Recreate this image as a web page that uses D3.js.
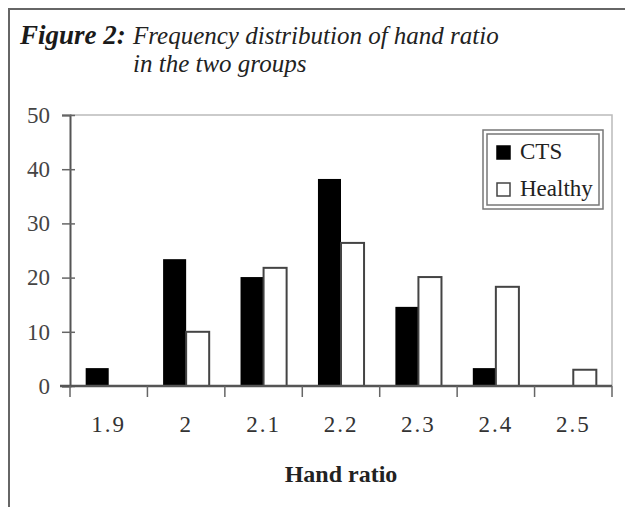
<!DOCTYPE html>
<html>
<head>
<meta charset="utf-8">
<script src="https://cdn.jsdelivr.net/npm/d3@7"></script>
<style>
  body { margin: 0; background: #fff; }
  svg { display: block; }
</style>
</head>
<body>
<svg id="chart" width="625" height="507"></svg>
<script>
// Data
const categories = ['1.9', '2', '2.1', '2.2', '2.3', '2.4', '2.5'];
const seriesNames = ['CTS', 'Healthy'];
const ctsValues = [3.3, 23.4, 20.1, 38.2, 14.6, 3.3, 0];
const healthyValues = [0, 10, 21.8, 26.4, 20.1, 18.3, 3];
const yTicks = [0, 10, 20, 30, 40, 50];

const svg = d3.select('#chart');
const serif = '"Liberation Serif", "Times New Roman", serif';

// outer frame (top + left edge of the cropped figure box)
svg.append('path')
    .attr('d', 'M9,507 L9,9 L625,9')
    .attr('fill', 'none')
    .attr('stroke', '#666')
    .attr('stroke-width', 2);

// figure caption
svg.append('text')
    .attr('x', 20).attr('y', 44)
    .style('font-family', serif)
    .style('font-size', '27px')
    .style('font-weight', 'bold')
    .style('font-style', 'italic')
    .style('fill', '#1a1a1a')
    .text('Figure 2:');

const captionLines = ['Frequency distribution of hand ratio', 'in the two groups'];
svg.append('g').selectAll('text')
    .data(captionLines)
    .enter()
    .append('text')
    .attr('x', 133)
    .attr('y', (d, i) => 44 + i * 28)
    .style('font-family', serif)
    .style('font-size', '25px')
    .style('font-style', 'italic')
    .style('fill', '#222')
    .text(d => d);

// plot area
const margin = { top: 115, left: 70, right: 13, bottom: 121 };
const width = 625 - margin.left - margin.right;
const height = 507 - margin.top - margin.bottom;

const g = svg.append('g')
    .attr('transform', `translate(${margin.left},${margin.top})`);

const x0 = d3.scaleBand()
    .domain(categories)
    .range([0, width])
    .padding(0);

const x1 = d3.scaleBand()
    .domain(seriesNames)
    .range([0, x0.bandwidth()])
    .paddingInner(0)
    .paddingOuter(0.68);

const y = d3.scaleLinear()
    .domain([0, 50])
    .range([height, 0]);

// top / right border of plot area
g.append('path')
    .attr('d', `M0,0 L${width},0 L${width},${height}`)
    .attr('fill', 'none')
    .attr('stroke', '#bbb')
    .attr('stroke-width', 1.5);

const rows = categories.map((c, i) => ({
    cat: c,
    values: [
        { key: 'CTS', value: ctsValues[i] },
        { key: 'Healthy', value: healthyValues[i] }
    ]
}));

// bars
const groups = g.selectAll('.group')
    .data(rows)
    .enter()
    .append('g')
    .attr('class', 'group')
    .attr('transform', d => `translate(${x0(d.cat)},0)`);

groups.selectAll('rect')
    .data(d => d.values.filter(v => v.value > 0))
    .enter()
    .append('rect')
    .attr('x', d => x1(d.key))
    .attr('y', d => y(d.value))
    .attr('width', x1.bandwidth())
    .attr('height', d => height - y(d.value))
    .attr('fill', d => d.key === 'CTS' ? '#000' : '#fff')
    .attr('stroke', d => d.key === 'CTS' ? '#000' : '#444')
    .attr('stroke-width', d => d.key === 'CTS' ? 0 : 2);

// y axis
const yAxis = g.append('g')
    .call(d3.axisLeft(y).tickValues(yTicks).tickSize(8).tickPadding(12));
yAxis.select('.domain')
    .attr('stroke', '#555')
    .attr('stroke-width', 2);
yAxis.selectAll('.tick line')
    .attr('x1', 5)
    .attr('stroke', '#666')
    .attr('stroke-width', 1.5);
yAxis.selectAll('.tick text')
    .style('font-family', serif)
    .style('font-size', '23px')
    .style('fill', '#444');

// x axis
const xAxis = g.append('g')
    .attr('transform', `translate(0,${height})`)
    .call(d3.axisBottom(x0).tickSize(0).tickPadding(30));
xAxis.select('.domain').remove();
xAxis.selectAll('.tick text')
    .style('font-family', serif)
    .style('font-size', '23px')
    .style('letter-spacing', '2px')
    .style('fill', '#333');

xAxis.append('line')
    .attr('x1', -10)
    .attr('x2', width)
    .attr('stroke', '#555')
    .attr('stroke-width', 2.5);

const boundaries = categories.map(c => x0(c)).concat([x0.range()[1]]);
xAxis.selectAll('.bound')
    .data(boundaries)
    .enter()
    .append('line')
    .attr('class', 'bound')
    .attr('x1', d => d)
    .attr('x2', d => d)
    .attr('y1', 0)
    .attr('y2', 11)
    .attr('stroke', '#666')
    .attr('stroke-width', 1.5);

g.append('text')
    .attr('x', width / 2)
    .attr('y', height + 96)
    .attr('text-anchor', 'middle')
    .style('font-family', serif)
    .style('font-size', '24px')
    .style('font-weight', 'bold')
    .style('fill', '#222')
    .text('Hand ratio');

// legend
const lx = 483 - margin.left, ly = 130 - margin.top;
const legend = g.append('g').attr('transform', `translate(${lx},${ly})`);
legend.append('rect')
    .attr('width', 120).attr('height', 79)
    .attr('fill', '#fff')
    .attr('stroke', '#777').attr('stroke-width', 1.5);
legend.append('rect')
    .attr('x', 4).attr('y', 4)
    .attr('width', 112).attr('height', 71)
    .attr('fill', 'none')
    .attr('stroke', '#777').attr('stroke-width', 1.5);

const items = legend.selectAll('.item')
    .data(seriesNames)
    .enter()
    .append('g')
    .attr('class', 'item')
    .attr('transform', (d, i) => `translate(14,${16 + i * 37})`);

items.append('rect')
    .attr('width', 13).attr('height', 13)
    .attr('fill', (d, i) => i === 0 ? '#000' : '#fff')
    .attr('stroke', (d, i) => i === 0 ? '#000' : '#444')
    .attr('stroke-width', 1.5);

items.append('text')
    .attr('x', 23)
    .attr('y', 13)
    .style('font-family', serif)
    .style('font-size', '23px')
    .style('fill', '#222')
    .text(d => d);
</script>
</body>
</html>
